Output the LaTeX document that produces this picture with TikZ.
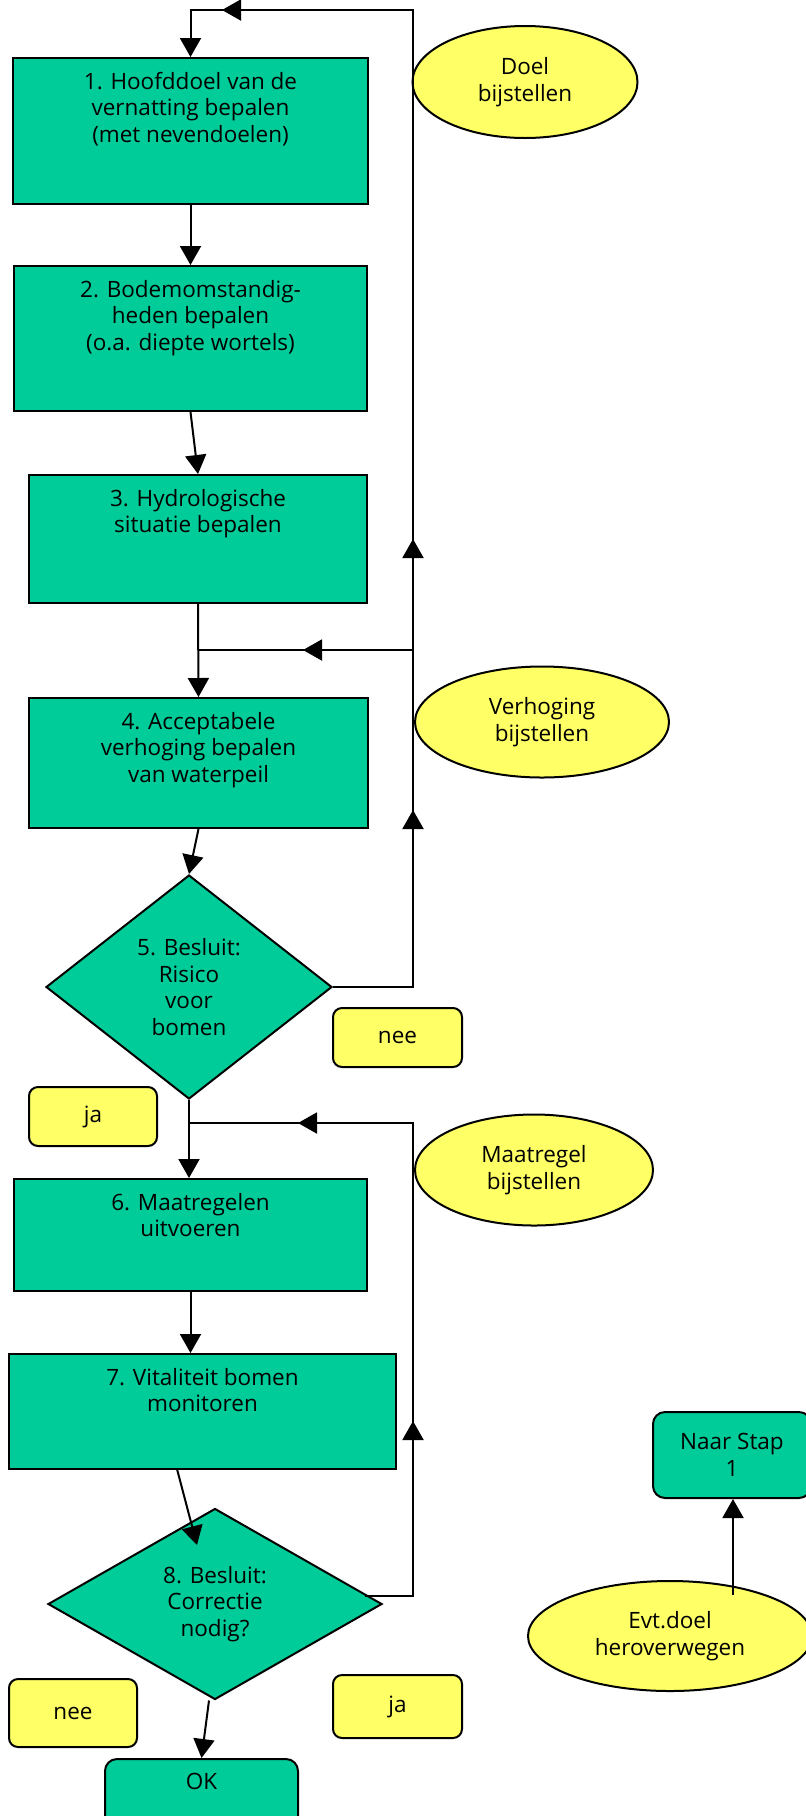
\documentclass[tikz,border=0pt]{standalone}
\usepackage{fontspec}
\setmainfont{Open Sans}
\usetikzlibrary{arrows.meta,shapes.geometric,decorations.markings,calc}
\definecolor{stepgreen}{RGB}{0,204,153}
\definecolor{noteyellow}{RGB}{255,255,102}
\tikzset{tri/.tip={Triangle[length=19pt,width=21pt]}}
\begin{document}
\begin{tikzpicture}[x=1pt,y=-1pt,
  every node/.style={font=\fontsize{22.5}{26.5}\selectfont, text=black},
  stepbox/.style={rectangle, draw=black, line width=2pt, fill=stepgreen, inner sep=0pt},
  txtlbl/.style={anchor=north, align=center, inner sep=0pt, yshift=-15pt},
  decision/.style={diamond, draw=black, line width=2pt, fill=stepgreen, inner sep=0pt, align=center},
  note/.style={ellipse, draw=black, line width=2pt, fill=noteyellow, inner sep=0pt, align=center},
  tag/.style={rectangle, rounded corners=9pt, draw=black, line width=2pt, fill=noteyellow, inner sep=0pt},
  gtag/.style={rectangle, rounded corners=12pt, draw=black, line width=2pt, fill=stepgreen, inner sep=0pt, align=center},
  ln/.style={line width=2pt},
  arr/.style={line width=2pt, -{tri}},
  midarr/.style={postaction={decorate, decoration={markings, mark=at position #1 with {\arrow{tri}}}}}
]
\path[fill=white, use as bounding box] (0,0) rectangle (806,1816);

% steps
\node[stepbox, minimum width=355pt, minimum height=146pt,
  label={[txtlbl]north:1. Hoofddoel van de\\vernatting bepalen\\(met nevendoelen)}] (b1) at (190.5,131) {};
\node[stepbox, minimum width=353pt, minimum height=145pt,
  label={[txtlbl]north:2. Bodemomstandig-\\heden bepalen\\(o.a. diepte wortels)}] (b2) at (190.5,338.5) {};
\node[stepbox, minimum width=338pt, minimum height=128pt,
  label={[txtlbl]north:3. Hydrologische\\situatie bepalen}] (b3) at (198,539) {};
\node[stepbox, minimum width=339pt, minimum height=130pt,
  label={[txtlbl]north:4. Acceptabele\\verhoging bepalen\\van waterpeil}] (b4) at (198.5,763) {};
\node[decision, minimum width=286pt, minimum height=224pt] (d5) at (189,987)
  {5. Besluit:\\Risico\\voor\\bomen};
\node[stepbox, minimum width=353pt, minimum height=112pt,
  label={[txtlbl]north:6. Maatregelen\\uitvoeren}] (b6) at (190.5,1235) {};
\node[stepbox, minimum width=387pt, minimum height=115pt,
  label={[txtlbl]north:7. Vitaliteit bomen\\monitoren}] (b7) at (202.5,1411.5) {};
\node[decision, minimum width=334pt, minimum height=191pt] (d8) at (215,1604)
  {8. Besluit:\\Correctie\\nodig?};
\node[gtag, minimum width=193pt, minimum height=70pt,
  label={[txtlbl]north:OK}] (ok) at (201.5,1794) {};
\node[gtag, minimum width=158pt, minimum height=86pt] (naar) at (732,1455) {Naar Stap\\1};

% yellow notes
\node[note, minimum width=225pt, minimum height=112pt] (e1) at (525,82) {Doel\\bijstellen};
\node[note, minimum width=254pt, minimum height=111pt] (e2) at (542,722) {Verhoging\\bijstellen};
\node[note, minimum width=238pt, minimum height=111pt] (e3) at (534,1170) {Maatregel\\bijstellen};
\node[note, minimum width=284pt, minimum height=110pt] (e4) at (670,1636) {Evt.doel\\heroverwegen};

\node[tag, minimum width=129pt, minimum height=59pt] (nee5) at (397.5,1037.5) {nee};
\node[tag, minimum width=128pt, minimum height=59pt] (ja5) at (93,1116.5) {ja};
\node[tag, minimum width=128pt, minimum height=68pt] (nee8) at (73,1713) {nee};
\node[tag, minimum width=129pt, minimum height=63pt] (ja8) at (397.5,1706.5) {ja};

% coordinates
\coordinate (topR) at (413,10);
\coordinate (j4) at (198,650);
\coordinate (j6) at (189,1123);
\coordinate (c8) at (365,1596);
\coordinate (t8) at (197,1545);
\coordinate (s7) at (177,1469);
\coordinate (sEvt) at (733,1595);

% main flow
\draw[arr] (b1.south) -- (b2.north);
\draw[arr] (b2.south) -- (b3.north);
\draw[arr] (b3.south) -- (b4.north);
\draw[arr] (b4.south) -- (d5.north);
\draw[arr] (d5.south) -- (d5.south |- b6.north);
\draw[arr] (b6.south) -- (b6.south |- b7.north);
\draw[arr] (s7) -- (t8);
\draw[arr] ($(d8.south)+(-6,0)$) -- (ok.north);
\draw[arr] (sEvt) -- (sEvt |- naar.south);

% feedback loops
\draw[arr, midarr=257pt, midarr=528pt, midarr=1248pt]
  (d5.east) -- (d5.east -| topR) -- (topR) -- (b1.north |- topR) -- (b1.north);
\draw[ln, midarr=110pt] (topR |- j4) -- (j4);
\draw[ln, midarr=223pt, midarr=636pt]
  (c8) -- (c8 -| topR) -- (topR |- j6) -- (j6);
\end{tikzpicture}
\end{document}
